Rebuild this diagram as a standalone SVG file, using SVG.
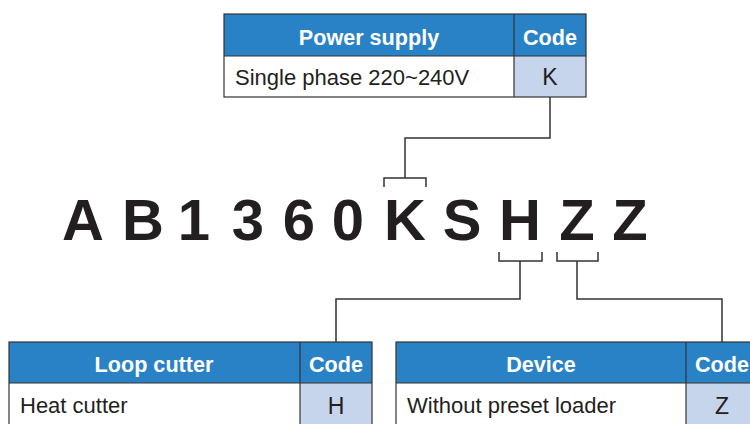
<svg xmlns="http://www.w3.org/2000/svg" width="750" height="424" viewBox="0 0 750 424">
<style>
.hd{fill:#2a82c6}
.cd{fill:#c6d4ec}
.bd{fill:none;stroke:#333;stroke-width:1.2}
.ht{font-family:"Liberation Sans",Arial,sans-serif;font-weight:bold;font-size:21.6px;fill:#fff;text-anchor:middle}
.dt{font-family:"Liberation Sans",Arial,sans-serif;font-size:22px;fill:#231f20}
.ct{font-family:"Liberation Sans",Arial,sans-serif;font-size:23px;fill:#231f20;text-anchor:middle}
.big{font-family:"Liberation Sans",Arial,sans-serif;font-weight:bold;font-size:58px;fill:#231f20;text-anchor:middle}
.ln{fill:none;stroke:#333;stroke-width:1.5}
</style>
<rect width="750" height="424" fill="#fff"/>
<g id="power-supply">
<rect class="hd" x="224" y="14" width="362" height="42"/>
<rect fill="#fff" x="224" y="56" width="290" height="41"/>
<rect class="cd" x="514" y="56" width="72" height="41"/>
<rect class="bd" x="224" y="14" width="362" height="83"/>
<line class="bd" x1="224" y1="56" x2="586" y2="56"/>
<line class="bd" x1="514" y1="14" x2="514" y2="97"/>
<text class="ht" x="369" y="45">Power supply</text>
<text class="ht" x="550" y="45">Code</text>
<text class="dt" x="235" y="85">Single phase 220~240V</text>
<text class="ct" x="550" y="85">K</text>
</g>
<g id="model-code">
<text class="big" x="83" y="240">A</text>
<text class="big" x="143" y="240">B</text>
<text class="big" x="194" y="240">1</text>
<text class="big" x="248" y="240">3</text>
<text class="big" x="299" y="240">6</text>
<text class="big" x="348" y="240">0</text>
<text class="big" x="405" y="240">K</text>
<text class="big" x="462" y="240">S</text>
<text class="big" x="520" y="240">H</text>
<text class="big" x="577" y="240">Z</text>
<text class="big" x="630" y="240">Z</text>
</g>
<g id="loop-cutter">
<rect class="hd" x="9" y="342" width="363" height="41"/>
<rect fill="#fff" x="9" y="383" width="291" height="42"/>
<rect class="cd" x="300" y="383" width="72" height="42"/>
<rect class="bd" x="9" y="342" width="363" height="90"/>
<line class="bd" x1="9" y1="383" x2="372" y2="383"/>
<line class="bd" x1="300" y1="342" x2="300" y2="424"/>
<text class="ht" x="154" y="372">Loop cutter</text>
<text class="ht" x="336" y="372">Code</text>
<text class="dt" x="20" y="413">Heat cutter</text>
<text class="ct" x="336" y="414">H</text>
</g>
<g id="device">
<rect class="hd" x="396" y="342" width="362" height="41"/>
<rect fill="#fff" x="396" y="383" width="290" height="42"/>
<rect class="cd" x="686" y="383" width="72" height="42"/>
<rect class="bd" x="396" y="342" width="362" height="90"/>
<line class="bd" x1="396" y1="383" x2="758" y2="383"/>
<line class="bd" x1="686" y1="342" x2="686" y2="424"/>
<text class="ht" x="541" y="372">Device</text>
<text class="ht" x="722" y="372">Code</text>
<text class="dt" x="407" y="413">Without preset loader</text>
<text class="ct" x="722" y="414">Z</text>
</g>
<g id="connectors">
<polyline class="ln" points="550,97 550,138 405,138 405,178"/>
<polyline class="ln" points="384,187 384,178 426,178 426,187"/>
<polyline class="ln" points="499,252 499,261 542,261 542,252"/>
<polyline class="ln" points="520,261 520,299 336,299 336,342"/>
<polyline class="ln" points="557,252 557,261 598,261 598,252"/>
<polyline class="ln" points="577,261 577,299 722,299 722,342"/>
</g>
</svg>
